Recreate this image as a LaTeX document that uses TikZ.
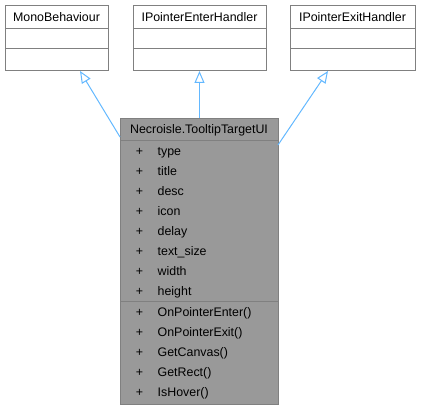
\documentclass[tikz,border=0pt]{standalone}
\usepackage{fontspec}
\setmainfont{Liberation Sans}
\usetikzlibrary{arrows.meta}
\tikzstyle{umlDiagram} = [x = 1pt, y = -1pt, every node/.style={font=\fontsize{12.4}{14}\selectfont}]
\definecolor{edgeColor}{HTML}{63B8FF}
\definecolor{borderColor}{HTML}{808080}
\definecolor{focusColor}{HTML}{999999}
\tikzstyle{classBox} = [draw=borderColor, fill=white, line width=1pt, inner sep=0pt, anchor=north west]
\tikzstyle{focusBox} = [draw=borderColor, fill=focusColor, line width=1pt, inner sep=0pt, anchor=north west]
\tikzstyle{sepLine} = [color=borderColor, line width=1pt]
\tikzstyle{titleText} = [anchor=base, inner sep=0pt]
\tikzstyle{memberText} = [anchor=base west, inner sep=0pt]
\tikzstyle{inheritLine} = [color=edgeColor, line width=1pt, -{Triangle[open, length=12pt, width=10pt, fill=white]}]
\newcommand{\emptyClass}[5]{
  \node [classBox, minimum width=#3-#2, minimum height=65] (#1) at (#2,5) {};
  \draw [sepLine] (#2,29) -- (#3,29) (#2,49) -- (#3,49);
  \node [titleText] (#1Title) at ({(#2+#3)/2},21.5) {#4};
  \coordinate (#1Tip) at (#5,71);
}
\newcommand{\memberRow}[3]{
  \node [titleText] (plus#1) at (139.5,#2) {+};
  \node [memberText] (member#1) at (157.5,#2) {#3};
}

\begin{document}
\begin{tikzpicture}[umlDiagram]
  \useasboundingbox (0,0) rectangle (421,409);
  \emptyClass{monoBehaviour}{5}{108}{MonoBehaviour}{80}
  \emptyClass{enterHandler}{133}{266}{IPointerEnterHandler}{199.5}
  \emptyClass{exitHandler}{290}{415}{IPointerExitHandler}{328}

  \node [focusBox, minimum width=158, minimum height=286] (tooltipTarget) at (120,118) {};
  \draw [sepLine] (120,141) -- (278,141) (120,302) -- (278,302);
  \node [titleText] (tooltipTitle) at (199,134) {Necroisle.TooltipTargetUI};
  \foreach \member [count=\i from 0] in {type,title,desc,icon,delay,text\_size,width,height} {
    \pgfmathsetmacro{\rowY}{155.5 + 20 * \i}
    \memberRow{A\i}{\rowY}{\member}
  }
  \foreach \method [count=\i from 0] in {OnPointerEnter(),OnPointerExit(),GetCanvas(),GetRect(),IsHover()} {
    \pgfmathsetmacro{\rowY}{316.5 + 20 * \i}
    \memberRow{M\i}{\rowY}{\method}
  }

  \coordinate (leftFoot) at (120,137);
  \coordinate (midFoot) at (199.5,118);
  \coordinate (rightFoot) at (278,145);
  \draw [inheritLine] (leftFoot) -- (monoBehaviourTip);
  \draw [inheritLine] (midFoot) -- (enterHandlerTip);
  \draw [inheritLine] (rightFoot) -- (exitHandlerTip);
\end{tikzpicture}
\end{document}
